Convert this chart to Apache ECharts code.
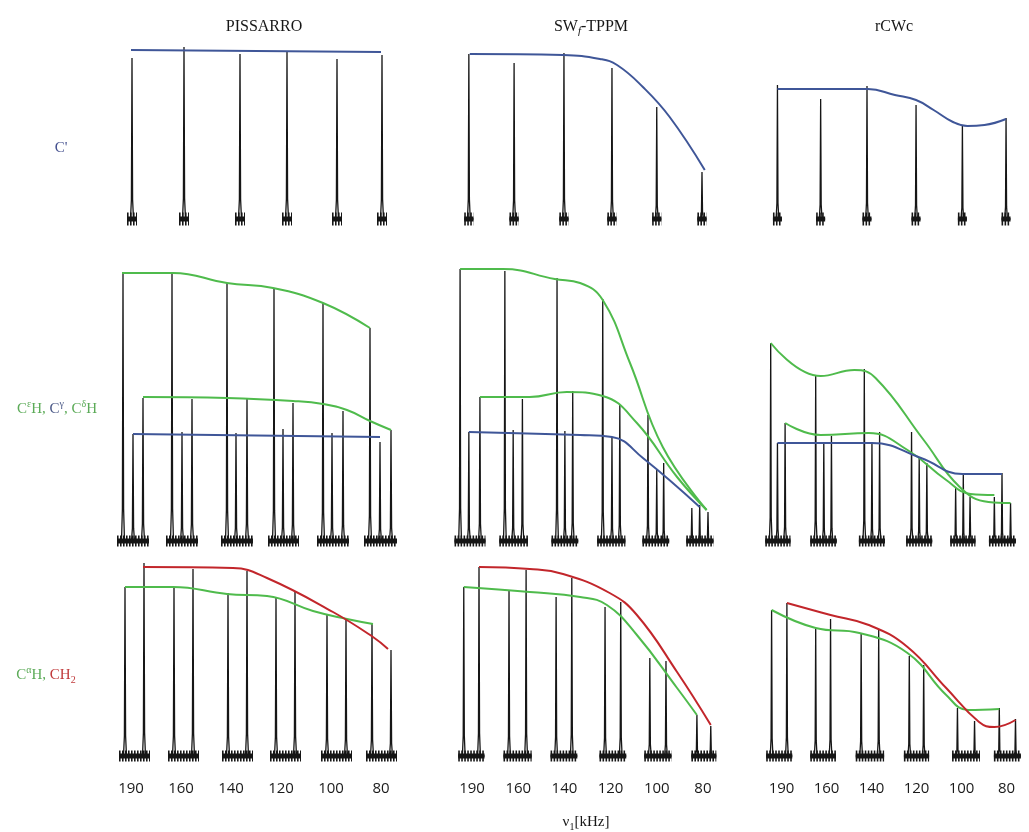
<!DOCTYPE html>
<html>
<head>
<meta charset="utf-8">
<script src="https://cdn.jsdelivr.net/npm/echarts@6/dist/echarts.min.js"></script>
<style>
  html, body { margin: 0; padding: 0; background: #fff; }
  #main { width: 1029px; height: 832px; }
</style>
</head>
<body>
<div id="main"></div>
<script>
// x positions are in "slot" units: slot i (0..5) holds the spectrum recorded at kHzLabels[i]
// y values are peak intensities (arbitrary units, baseline = 0)
var kHzLabels = ['190', '160', '140', '120', '100', '80'];

// ---- row 1 : C' ----
var pisCoPeaks = [[0.52, 161], [1.56, 172], [2.68, 165], [3.62, 167], [4.62, 160], [5.52, 164]];
var pisCoFit = [[0.5, 169], [5.5, 167]];
var swfCoPeaks = [[0.43, 165], [1.41, 156], [2.49, 166], [3.53, 151], [4.50, 112], [5.48, 47]];
var swfCoFit = [[0.45, 165], [2.47, 164], [3.27, 160], [3.64, 154], [4.2, 132], [4.78, 102], [5.54, 49]];
var rcwCoPeaks = [[0.41, 134], [1.37, 120], [2.40, 133], [3.49, 114], [4.52, 94], [5.49, 101]];
var rcwCoFit = [[0.41, 130], [2.42, 130], [3.02, 124], [3.49, 119], [3.88, 109], [4.31, 97], [4.63, 93], [5.01, 94], [5.49, 100]];

// ---- row 2 : CeH, Cg, CdH ----
var pisSideA = [[0.34, 268], [1.32, 268], [2.42, 258], [3.36, 253], [4.34, 238], [5.28, 213]];
var pisSideG = [[0.54, 107], [1.52, 109], [2.6, 108], [3.54, 112], [4.52, 108], [5.48, 99]];
var pisSideB = [[0.74, 143], [1.72, 142], [2.82, 143], [3.74, 138], [4.74, 130], [5.7, 111]];
var pisSideFitA = [[0.32, 268], [1.34, 268], [2.42, 258], [3.34, 253], [4.34, 238], [5.28, 213]];
var pisSideFitB = [[0.74, 144], [2.42, 143], [3.74, 140], [4.34, 137], [4.82, 131], [5.28, 120], [5.7, 111]];
var pisSideFitG = [[0.54, 107], [5.48, 104]];

var swfSideA = [[0.24, 272], [1.21, 270], [2.34, 263], [3.33, 242], [4.31, 126], [5.26, 33]];
var swfSideG = [[0.43, 109], [1.39, 111], [2.51, 110], [3.53, 104], [4.5, 71], [5.43, 36]];
var swfSideB = [[0.67, 144], [1.59, 142], [2.68, 150], [3.7, 136], [4.65, 78], [5.61, 29]];
var swfSideFitA = [[0.24, 272], [1.17, 272], [2.29, 262], [2.84, 258], [3.33, 241], [3.92, 178], [4.63, 94], [5.58, 31]];
var swfSideFitB = [[0.67, 144], [1.75, 144], [2.55, 149], [3.33, 145], [4.07, 118], [4.94, 64], [5.58, 31]];
var swfSideFitG = [[0.43, 109], [2.84, 106], [3.53, 104], [4.2, 83], [5.43, 34]];

var rcwSideA = [[0.26, 198], [1.26, 166], [2.34, 172], [3.39, 109], [4.37, 53], [5.23, 44]];
var rcwSideG = [[0.41, 98], [1.44, 98], [2.51, 99], [3.56, 84], [4.54, 67], [5.4, 68]];
var rcwSideB = [[0.58, 118], [1.61, 105], [2.68, 109], [3.73, 78], [4.69, 44], [5.59, 38]];
var rcwSideFitA = [[0.26, 198], [1.37, 165], [2.12, 171], [2.59, 163], [3.66, 101], [4.46, 54], [5.1, 39], [5.59, 38]];
var rcwSideFitB = [[0.58, 118], [1.37, 106], [2.44, 108], [3.3, 91], [4.16, 61], [4.7, 47], [5.23, 46]];
var rcwSideFitG = [[0.41, 98], [2.51, 98], [3.6, 83], [4.52, 67], [5.4, 67]];

// ---- row 3 : CaH, CH2 ----
var pisCaH = [[0.38, 169], [1.36, 169], [2.44, 163], [3.4, 158], [4.42, 141], [5.32, 133]];
var pisCH2 = [[0.76, 193], [1.74, 187], [2.82, 185], [3.78, 164], [4.8, 137], [5.7, 106]];
var pisCaHFit = [[0.38, 169], [1.34, 169], [2.42, 162], [3.22, 160], [4.14, 145], [4.82, 137], [5.34, 132]];
var pisCH2Fit = [[0.74, 189], [2.54, 188], [3.22, 178], [4.54, 144], [5.34, 119], [5.64, 107]];

var swfCaH = [[0.32, 169], [1.3, 165], [2.32, 159], [3.38, 149], [4.35, 98], [5.37, 41]];
var swfCH2 = [[0.65, 189], [1.67, 186], [2.66, 178], [3.72, 154], [4.7, 95], [5.67, 30]];
var swfCaHFit = [[0.32, 169], [1.75, 164], [2.84, 159], [3.42, 151], [4.07, 121], [4.94, 68], [5.37, 41]];
var swfCH2Fit = [[0.65, 189], [1.75, 187], [2.47, 182], [3.48, 163], [4.07, 141], [4.94, 84], [5.67, 31]];

var rcwCaH = [[0.28, 146], [1.26, 128], [2.27, 122], [3.34, 100], [4.41, 48], [5.34, 48]];
var rcwCH2 = [[0.62, 153], [1.59, 137], [2.66, 126], [3.66, 91], [4.79, 35], [5.7, 37]];
var rcwCaHFit = [[0.28, 146], [1.26, 128], [2.23, 123], [3.3, 103], [4.16, 61], [4.65, 46], [5.34, 47]];
var rcwCH2Fit = [[0.62, 153], [1.59, 141], [2.44, 131], [3.3, 109], [4.16, 68], [4.89, 34], [5.23, 29], [5.7, 36]];

var BLUE = '#3f5698', GREEN = '#4fbb4c', RED = '#c2262b', INK = '#161616';
var SERIF = '"Liberation Serif", "DejaVu Serif", serif';

var cols = [{ left: 106, width: 300 }, { left: 449, width: 277 }, { left: 759, width: 280 }];
var rows = [
    { base: 219, max: 190, min: -15, noise: 13 },
    { base: 541, max: 290, min: -15, noise: 11 },
    { base: 756, max: 200, min: -15, noise: 11 }
];

var panels = [
    { row: 0, col: 0, peaks: [pisCoPeaks], fits: [[pisCoFit, BLUE]] },
    { row: 0, col: 1, peaks: [swfCoPeaks], fits: [[swfCoFit, BLUE]] },
    { row: 0, col: 2, peaks: [rcwCoPeaks], fits: [[rcwCoFit, BLUE]] },
    { row: 1, col: 0, peaks: [pisSideA, pisSideG, pisSideB], fits: [[pisSideFitA, GREEN], [pisSideFitB, GREEN], [pisSideFitG, BLUE]] },
    { row: 1, col: 1, peaks: [swfSideA, swfSideG, swfSideB], fits: [[swfSideFitA, GREEN], [swfSideFitB, GREEN], [swfSideFitG, BLUE]] },
    { row: 1, col: 2, peaks: [rcwSideA, rcwSideG, rcwSideB], fits: [[rcwSideFitA, GREEN], [rcwSideFitB, GREEN], [rcwSideFitG, BLUE]] },
    { row: 2, col: 0, peaks: [pisCaH, pisCH2], fits: [[pisCaHFit, GREEN], [pisCH2Fit, RED]] },
    { row: 2, col: 1, peaks: [swfCaH, swfCH2], fits: [[swfCaHFit, GREEN], [swfCH2Fit, RED]] },
    { row: 2, col: 2, peaks: [rcwCaH, rcwCH2], fits: [[rcwCaHFit, GREEN], [rcwCH2Fit, RED]] }
];

// one trace per panel: each slot's peaks joined along the baseline, slots split by a gap
function build_trace(peakSets, pad) {
    var trace = [], noise = [];
    for (var g = 0; g < kHzLabels.length; g++) {
        var peaks = peakSets.map(function (s) { return s[g]; }).sort(function (a, b) { return a[0] - b[0]; });
        var x0 = peaks[0][0] - pad, x1 = peaks[peaks.length - 1][0] + pad;
        trace.push([x0, 0]);
        peaks.forEach(function (p) {
            trace.push([p[0] - 0.03, 0], [p[0] - 0.012, p[1] * 0.12], [p[0], p[1]], [p[0] + 0.012, p[1] * 0.12], [p[0] + 0.03, 0]);
        });
        trace.push([x1, 0], [x1, '-']);
        noise.push([x0, 0], [x1, 0], [x1, '-']);
    }
    return { trace: trace, noise: noise };
}

var grids = [], xAxes = [], yAxes = [], series = [];
panels.forEach(function (p, i) {
    var r = rows[p.row], c = cols[p.col];
    grids.push({ left: c.left, width: c.width, top: r.base - r.max, height: r.max - r.min });
    xAxes.push({ gridIndex: i, type: 'value', min: 0, max: 6, show: false });
    xAxes.push({
        gridIndex: i, type: 'category', data: kHzLabels, position: 'bottom', boundaryGap: true,
        show: p.row === 2,
        axisLine: { show: false }, axisTick: { show: false },
        axisLabel: { margin: 10, fontSize: 15, color: '#1a1a1a', fontFamily: '"Open Sans", "Noto Sans", sans-serif' }
    });
    yAxes.push({ gridIndex: i, type: 'value', min: r.min, max: r.max, show: false });
    var t = build_trace(p.peaks, p.row === 0 ? 0.1 : 0.12);
    // baseline noise: dark core plus a ragged fringe
    series.push({
        type: 'line', xAxisIndex: 2 * i, yAxisIndex: i, data: t.noise, symbol: 'none',
        lineStyle: { color: INK, width: r.noise, type: [1.6, 1.4] }, z: 1, silent: true
    });
    series.push({
        type: 'line', xAxisIndex: 2 * i, yAxisIndex: i, data: t.noise, symbol: 'none',
        lineStyle: { color: INK, width: 5 }, z: 1, silent: true
    });
    series.push({
        type: 'line', xAxisIndex: 2 * i, yAxisIndex: i, data: t.trace, symbol: 'none',
        lineStyle: { color: INK, width: 1.3 }, z: 2, silent: true
    });
    p.fits.forEach(function (f) {
        series.push({
            type: 'line', xAxisIndex: 2 * i, yAxisIndex: i, data: f[0], symbol: 'none',
            smooth: 0.45,
            lineStyle: { color: f[1], width: 2 }, z: 3, silent: true
        });
    });
});

var sup = { fontFamily: SERIF, fontSize: 10, lineHeight: 10, verticalAlign: 'top' };
var sub = { fontFamily: SERIF, fontSize: 10, lineHeight: 10, verticalAlign: 'bottom' };
function rich_style(color, extra) {
    var s = { fontFamily: SERIF, fontSize: 15, lineHeight: 20, fill: color, color: color };
    for (var k in extra) s[k] = extra[k];
    return s;
}

var texts = [
    { x: 264, y: 27, text: 'PISSARRO', rich: null },
    { x: 591, y: 27, text: '{m|SW}{s|f}{m|-TPPM}', rich: {
        m: rich_style(INK, { fontSize: 16 }),
        s: rich_style(INK, { fontSize: 11, lineHeight: 11, verticalAlign: 'bottom', fontStyle: 'italic' })
    } },
    { x: 894, y: 27, text: 'rCWc', rich: null },
    { x: 61, y: 148, text: "{b|C'}", rich: { b: rich_style('#44508f') } },
    { x: 57, y: 409, text: '{g|C}{gs|ε}{g|H, }{b|C}{bs|γ}{g|, C}{gs|δ}{g|H}', rich: {
        g: rich_style('#5cab58'), b: rich_style('#4c5a88'),
        gs: rich_style('#5cab58', sup), bs: rich_style('#4c5a88', sup)
    } },
    { x: 46, y: 675, text: '{g|C}{gs|α}{g|H, }{r|CH}{rs|2}', rich: {
        g: rich_style('#5cab58'), r: rich_style('#c0393a'),
        gs: rich_style('#5cab58', sup), rs: rich_style('#c0393a', sub)
    } },
    { x: 586, y: 822, text: '{m|ν}{s|1}{m|[kHz]}', rich: {
        m: rich_style(INK, { fontSize: 15 }), s: rich_style(INK, sub)
    } }
];

var graphics = texts.map(function (t) {
    var style = { text: t.text, x: t.x, y: t.y, align: 'center', verticalAlign: 'middle', fill: INK, font: '16px ' + SERIF };
    if (t.rich) style.rich = t.rich;
    return { type: 'text', style: style, z: 10 };
});

var chart = echarts.init(document.getElementById('main'), null, { renderer: 'canvas' });
chart.setOption({
    animation: false,
    backgroundColor: '#fff',
    grid: grids,
    xAxis: xAxes,
    yAxis: yAxes,
    series: series,
    graphic: graphics
});
</script>
</body>
</html>
